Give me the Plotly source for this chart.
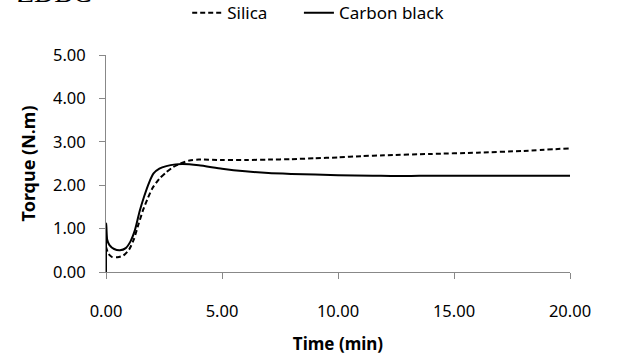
import plotly.graph_objects as go

# Carbon black (solid)
cb_time = [0, 0.01, 0.05, 0.15, 0.35, 0.6, 0.85, 1.05, 1.25, 1.45, 1.65, 1.85, 2.05, 2.3, 2.6, 3.0, 3.3,
           4.0, 5.0, 6.0, 7.0, 8.0, 10.0, 11.5, 12.5, 13.5, 20.0]
cb_torque = [0, 1.12, 0.75, 0.62, 0.53, 0.50, 0.55, 0.70, 0.97, 1.40, 1.75, 2.05, 2.27, 2.38, 2.44, 2.48, 2.49,
             2.46, 2.38, 2.32, 2.28, 2.26, 2.23, 2.22, 2.21, 2.22, 2.22]

# Silica (dashed)
si_time = [0, 0.1, 0.25, 0.5, 0.75, 1.0, 1.2, 1.4, 1.6, 1.8, 2.0, 2.3, 2.6, 2.9, 3.2, 3.6,
           4.0, 5.0, 6.0, 7.0, 8.0, 9.0, 10.0, 11.0, 12.0, 14.0, 16.0, 18.0, 20.0]
si_torque = [0.58, 0.42, 0.35, 0.34, 0.38, 0.52, 0.75, 1.10, 1.43, 1.70, 1.93, 2.15, 2.30, 2.42, 2.50, 2.57,
             2.59, 2.58, 2.58, 2.59, 2.60, 2.62, 2.64, 2.67, 2.69, 2.72, 2.75, 2.79, 2.85]

x_ticks = [0, 5, 10, 15, 20]
x_tick_labels = ["0.00", "5.00", "10.00", "15.00", "20.00"]
y_ticks = [0, 1, 2, 3, 4, 5]
y_tick_labels = ["0.00", "1.00", "2.00", "3.00", "4.00", "5.00"]

FONT = "Noto Sans"
PAD = "\u00a0" * 6

fig = go.Figure()
fig.add_trace(go.Scatter(x=si_time, y=si_torque, name="Silica" + PAD, mode="lines",
                         line=dict(color="black", width=2, dash="5px,3px", shape="spline", smoothing=0.6)))
fig.add_trace(go.Scatter(x=cb_time, y=cb_torque, name="Carbon black", mode="lines",
                         line=dict(color="black", width=2, shape="spline", smoothing=0.6)))

fig.update_layout(
    width=634, height=355,
    margin=dict(l=106, r=64, t=55, b=83, autoexpand=False),
    paper_bgcolor="white", plot_bgcolor="white",
    font=dict(family=FONT, color="black"),
    showlegend=True,
    legend=dict(orientation="h", x=0.175, y=1.276, xanchor="left", yanchor="top",
                font=dict(size=17, family=FONT, color="black"),
                tracegroupgap=0, bgcolor="rgba(0,0,0,0)"),
    xaxis=dict(range=[0, 20], tickvals=x_ticks, ticktext=x_tick_labels,
               automargin=False,
               showline=True, linecolor="#888888", linewidth=1,
               ticks="outside", ticklen=6, tickcolor="#888888",
               ticklabelstandoff=18,
               showgrid=False, zeroline=False,
               tickfont=dict(size=16.5, family=FONT),
               title=dict(text="<b>Time (min)</b>", font=dict(size=17, family=FONT), standoff=18)),
    yaxis=dict(range=[0, 5], tickvals=y_ticks, ticktext=y_tick_labels,
               automargin=False,
               showline=True, linecolor="#888888", linewidth=1,
               ticks="outside", ticklen=6, tickcolor="#888888",
               ticklabelstandoff=10,
               showgrid=False, zeroline=False,
               tickfont=dict(size=16.5, family=FONT),
               title=dict(text="<b>Torque (N.m)</b>", font=dict(size=18, family=FONT), standoff=12)),
    annotations=[dict(text="ZDBC", xref="paper", yref="paper", x=-0.196, y=1.208,
                      xanchor="left", yanchor="bottom", showarrow=False,
                      font=dict(family="Liberation Serif", size=28, color="black"))],
)

fig.write_html("out.html", config={"displayModeBar": False},
               post_script="document.body.style.margin='0px';")
